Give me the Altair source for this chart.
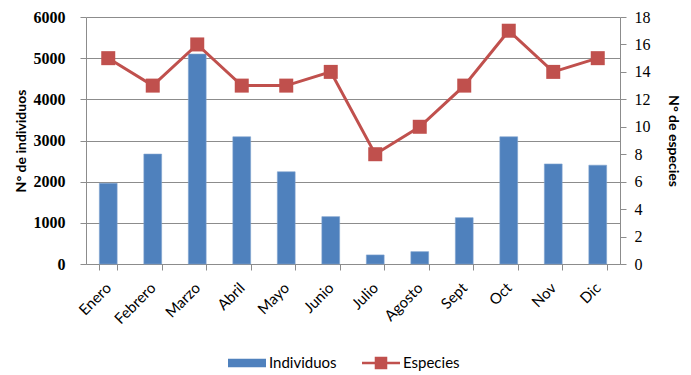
import altair as alt
import pandas as pd

meses = ["Enero", "Febrero", "Marzo", "Abril", "Mayo", "Junio",
         "Julio", "Agosto", "Sept", "Oct", "Nov", "Dic"]
individuos = [1960, 2670, 5100, 3090, 2240, 1150, 220, 300, 1125, 3090, 2430, 2400]
especies = [15, 13, 16, 13, 13, 14, 8, 10, 13, 17, 14, 15]

AZUL = "#4F81BD"
ROJO = "#C0504D"
GRIS = "#8C8C8C"
SANS = "Lato"
SERIF = "Liberation Serif"

df = pd.DataFrame({
    "mes": meses,
    "individuos": individuos,
    "especies": especies,
    "s1": "Individuos",
    "s2": "Especies",
})

x_enc = alt.X(
    "mes:N",
    sort=meses,
    scale=alt.Scale(paddingInner=0.6, paddingOuter=0.3),
    axis=alt.Axis(
        title=None, labelAngle=-45, labelAlign="right", labelBaseline="middle",
        labelFont=SANS, labelFontSize=15, labelColor="black", labelPadding=15,
        tickBand="extent", tickSize=6, tickColor=GRIS, domainColor=GRIS,
        grid=False,
    ),
)

base = alt.Chart(df)

barras = base.mark_bar(stroke="#7FA3CF", strokeWidth=0.6).encode(
    x=x_enc,
    y=alt.Y(
        "individuos:Q",
        scale=alt.Scale(domain=[0, 6000], nice=False),
        axis=alt.Axis(
            title="N° de individuos", titleFont=SANS, titleFontSize=14,
            titleFontWeight="bold", titleColor="black", titlePadding=5,
            values=list(range(0, 6001, 1000)), format="d", labelFont=SERIF,
            labelFontSize=16, labelFontWeight="bold", labelColor="black",
            labelPadding=15, tickSize=6, tickColor=GRIS, domainColor=GRIS,
            grid=True, gridColor=GRIS, gridWidth=1,
        ),
    ),
    color=alt.Color(
        "s1:N",
        scale=alt.Scale(domain=["Individuos"], range=[AZUL]),
        legend=alt.Legend(
            orient="none", legendX=142, legendY=327, title=None,
            symbolType="M-1,-0.22H1V0.22H-1Z", symbolSize=1444,
            symbolStrokeWidth=0, labelFont=SANS, labelFontSize=15,
            labelColor="black", labelOffset=3, padding=0,
        ),
    ),
)

y_esp = alt.Y(
    "especies:Q",
    scale=alt.Scale(domain=[0, 18], nice=False),
    axis=alt.Axis(
        orient="right", title="N° de especies", titleFont=SANS,
        titleFontSize=14, titleFontWeight="bold", titleColor="black",
        titlePadding=15, values=list(range(0, 19, 2)), format="d",
        labelFont=SERIF, labelFontSize=16, labelColor="black",
        labelPadding=8, tickSize=6, tickColor=GRIS, domainColor=GRIS,
        grid=False,
    ),
)

linea = base.mark_line(color=ROJO, strokeWidth=3).encode(x=x_enc, y=y_esp)

puntos = base.mark_square(size=196, opacity=1).encode(
    x=x_enc,
    y=y_esp,
    color=alt.Color(
        "s2:N",
        scale=alt.Scale(domain=["Especies"], range=[ROJO]),
        legend=alt.Legend(
            orient="none", legendX=276, legendY=327, title=None,
            symbolType="M-1,-0.07H1V0.07H-1ZM-0.33,-0.33H0.33V0.33H-0.33Z",
            symbolSize=1444, symbolStrokeWidth=0, labelFont=SANS,
            labelFontSize=15, labelColor="black", labelOffset=3, padding=0,
        ),
    ),
)

chart = alt.layer(barras, alt.layer(linea, puntos)).resolve_scale(
    y="independent", color="independent"
).properties(
    width=534,
    height=247,
    autosize=alt.AutoSizeParams(type="none"),
    padding={"left": 86, "top": 17, "right": 71, "bottom": 111},
    background="white",
).configure_view(stroke=None)

chart.save("out.html", embed_options={"renderer": "svg", "actions": False})
